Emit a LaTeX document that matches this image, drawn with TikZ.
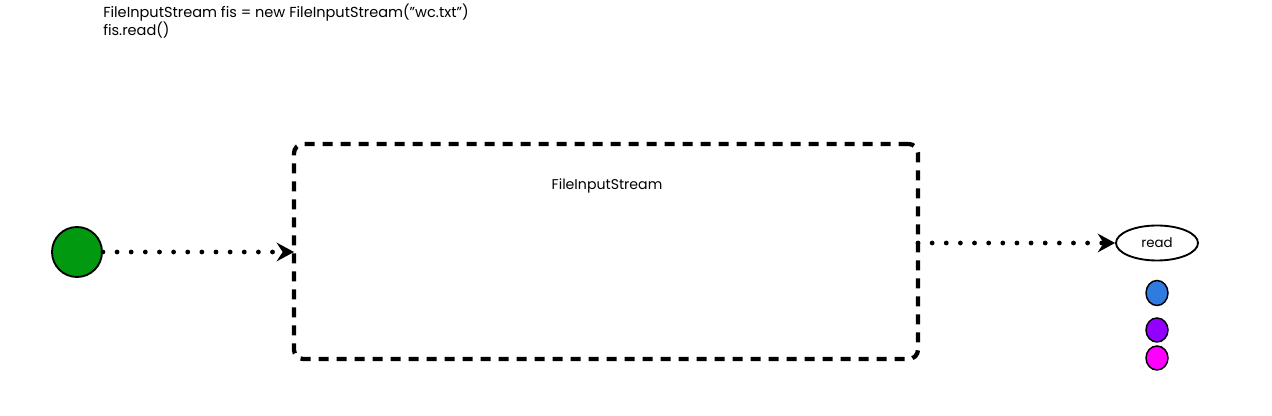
\documentclass[tikz,border=0pt]{standalone}
\usepackage{fontspec}
\setmainfont{Poppins}
\usetikzlibrary{arrows.meta,shapes.geometric}
\definecolor{sgreen}{HTML}{009910}
\definecolor{sblue}{HTML}{2F7BE0}
\definecolor{spurple}{HTML}{9300FF}
\definecolor{smagenta}{HTML}{FF00FF}
\tikzset{
  lbl/.style={font=\fontsize{10.6}{13.2}\selectfont, inner sep=0pt},
  codelbl/.style={font=\fontsize{10.9}{13.2}\selectfont, inner sep=0pt},
  dotline/.style={line width=3.6pt, line cap=round, dash pattern=on 0pt off 10.6pt,
     -{Stealth[length=13pt,width=14pt,inset=4.5pt,line cap=round]}},
  dashbox/.style={draw, line width=3.2pt, dash pattern=on 7.5pt off 6pt, rounded corners=7pt, outer sep=0pt},
  dot/.style={ellipse, draw, line width=1.1pt, inner sep=0pt},
}
\begin{document}
\begin{tikzpicture}[x=0.75pt,y=-0.75pt]
\useasboundingbox (0,0) rectangle (1272,416);
\node[codelbl, anchor=west, align=left] (code) at (103,21) {FileInputStream fis = new FileInputStream("wc.txt")\\fis.read()};
\node[circle, draw, line width=1.4pt, fill=sgreen, minimum size=50*0.75pt, inner sep=0pt] (start) at (77,252) {};
\node[dashbox, minimum width=624*0.75pt, minimum height=215*0.75pt] (box) at (606,251.5) {};
\node[lbl] (title) at (607,186) {FileInputStream};
\node[ellipse, draw, line width=1.4pt, minimum width=82*0.75pt, minimum height=35*0.75pt, inner sep=0pt, font=\fontsize{10}{12}\selectfont] (read) at (1157,243) {read};
\node[dot, fill=sblue, minimum width=22*0.75pt, minimum height=25*0.75pt] (b1) at (1157,293) {};
\node[dot, fill=spurple, minimum width=22*0.75pt, minimum height=24*0.75pt] (b2) at (1157,330) {};
\node[dot, fill=smagenta, minimum width=22*0.75pt, minimum height=24*0.75pt] (b3) at (1157,358) {};
\draw[dotline] (start.east) -- (box.west |- start.east);
\coordinate (bout) at (box.east |- read.west);
\draw[dotline] (bout) -- (read.west);
\end{tikzpicture}
\end{document}
